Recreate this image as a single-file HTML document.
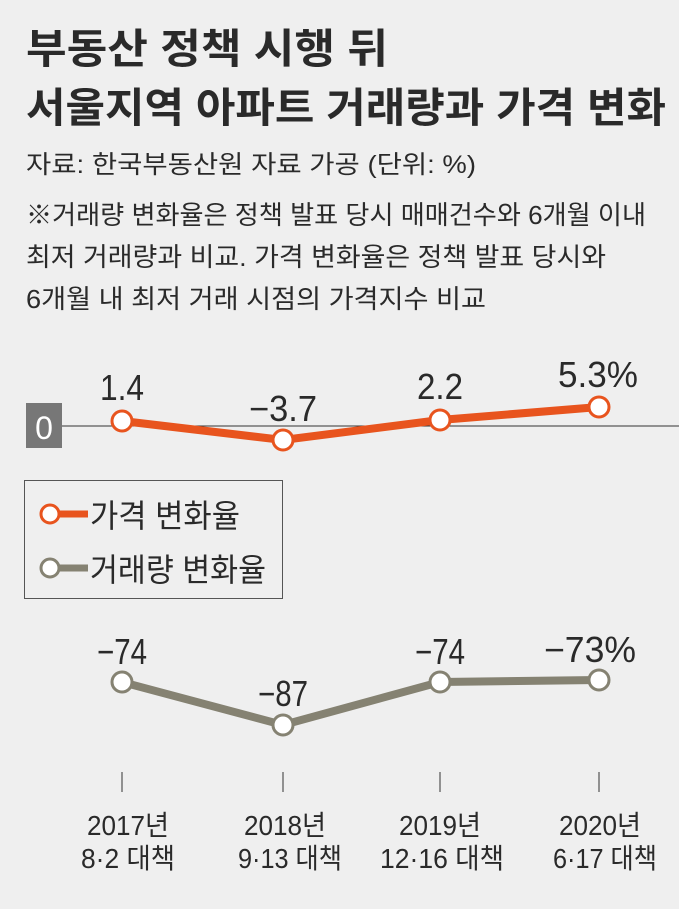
<!DOCTYPE html>
<html><head><meta charset="utf-8"><style>
body{margin:0;background:#efefef;}
svg{display:block}
text{font-family:"Liberation Sans","Noto Sans CJK KR",sans-serif;fill:#2a2a2a}
</style></head><body>
<svg width="679" height="909" viewBox="0 0 679 909">
<rect width="679" height="909" fill="#efefef"/>
<text x="26" y="63" font-size="41" font-weight="bold" fill="#333" textLength="362" lengthAdjust="spacingAndGlyphs">부동산 정책 시행 뒤</text>
<text x="26" y="122" font-size="41" font-weight="bold" fill="#333" textLength="640" lengthAdjust="spacingAndGlyphs">서울지역 아파트 거래량과 가격 변화</text>
<text x="26" y="173" font-size="25" textLength="450" lengthAdjust="spacingAndGlyphs">자료: 한국부동산원 자료 가공  (단위: %)</text>
<text x="26" y="224" font-size="26" textLength="620" lengthAdjust="spacingAndGlyphs">※거래량 변화율은 정책 발표 당시 매매건수와 6개월 이내</text>
<text x="26" y="266" font-size="26" textLength="580" lengthAdjust="spacingAndGlyphs">최저 거래량과 비교. 가격 변화율은 정책 발표 당시와</text>
<text x="26" y="308" font-size="26" textLength="460" lengthAdjust="spacingAndGlyphs">6개월 내 최저 거래 시점의 가격지수 비교</text>
<line x1="62" y1="426" x2="679" y2="426" stroke="#333" stroke-width="1"/>
<rect x="26" y="403" width="36" height="45" fill="#777"/>
<text x="44" y="439" font-size="32" text-anchor="middle" style="fill:#fff">0</text>
<polyline points="122,421 283,440 440,420 599,407" fill="none" stroke="#e8541e" stroke-width="8"/>
<g fill="#fff" stroke="#e8541e" stroke-width="3">
<circle cx="122" cy="421" r="10"/><circle cx="283" cy="440" r="10"/><circle cx="440" cy="420" r="10"/><circle cx="599" cy="407" r="10"/></g>
<g font-size="36" text-anchor="middle">
<text x="122" y="400" textLength="44" lengthAdjust="spacingAndGlyphs">1.4</text><text x="283" y="421" textLength="68" lengthAdjust="spacingAndGlyphs">−3.7</text><text x="440" y="399" textLength="46" lengthAdjust="spacingAndGlyphs">2.2</text><text x="598" y="387" textLength="80" lengthAdjust="spacingAndGlyphs">5.3%</text></g>
<rect x="24.5" y="480.5" width="258" height="118" fill="none" stroke="#555" stroke-width="1"/>
<line x1="50" y1="514" x2="88" y2="514" stroke="#e8541e" stroke-width="7"/>
<circle cx="50" cy="514" r="9" fill="#fff" stroke="#e8541e" stroke-width="3"/>
<line x1="50" y1="568" x2="88" y2="568" stroke="#858272" stroke-width="7"/>
<circle cx="50" cy="568" r="9" fill="#fff" stroke="#858272" stroke-width="3"/>
<text x="90" y="527" font-size="32" textLength="150" lengthAdjust="spacingAndGlyphs">가격 변화율</text>
<text x="90" y="581" font-size="32" textLength="176" lengthAdjust="spacingAndGlyphs">거래량 변화율</text>
<polyline points="122,682 283,725 440,682 599,680" fill="none" stroke="#858272" stroke-width="8"/>
<g fill="#fff" stroke="#858272" stroke-width="3">
<circle cx="122" cy="682" r="10"/><circle cx="283" cy="725" r="10"/><circle cx="440" cy="682" r="10"/><circle cx="599" cy="680" r="10"/></g>
<g font-size="36" text-anchor="middle">
<text x="122" y="664" textLength="50" lengthAdjust="spacingAndGlyphs">−74</text><text x="283" y="706" textLength="50" lengthAdjust="spacingAndGlyphs">−87</text><text x="440" y="664" textLength="50" lengthAdjust="spacingAndGlyphs">−74</text><text x="590" y="662" textLength="92" lengthAdjust="spacingAndGlyphs">−73%</text></g>
<g stroke="#333" stroke-width="1"><line x1="122" y1="772" x2="122" y2="792"/><line x1="283" y1="772" x2="283" y2="792"/><line x1="440" y1="772" x2="440" y2="792"/><line x1="599" y1="772" x2="599" y2="792"/></g>
<g font-size="28" text-anchor="middle">
<text x="128" y="835" textLength="82" lengthAdjust="spacingAndGlyphs">2017년</text><text x="128" y="868" textLength="94" lengthAdjust="spacingAndGlyphs">8·2 대책</text>
<text x="285" y="835" textLength="82" lengthAdjust="spacingAndGlyphs">2018년</text><text x="290" y="868" textLength="104" lengthAdjust="spacingAndGlyphs">9·13 대책</text>
<text x="440" y="835" textLength="82" lengthAdjust="spacingAndGlyphs">2019년</text><text x="442" y="868" textLength="124" lengthAdjust="spacingAndGlyphs">12·16 대책</text>
<text x="600" y="835" textLength="82" lengthAdjust="spacingAndGlyphs">2020년</text><text x="605" y="868" textLength="104" lengthAdjust="spacingAndGlyphs">6·17 대책</text></g>
</svg>
</body></html>
